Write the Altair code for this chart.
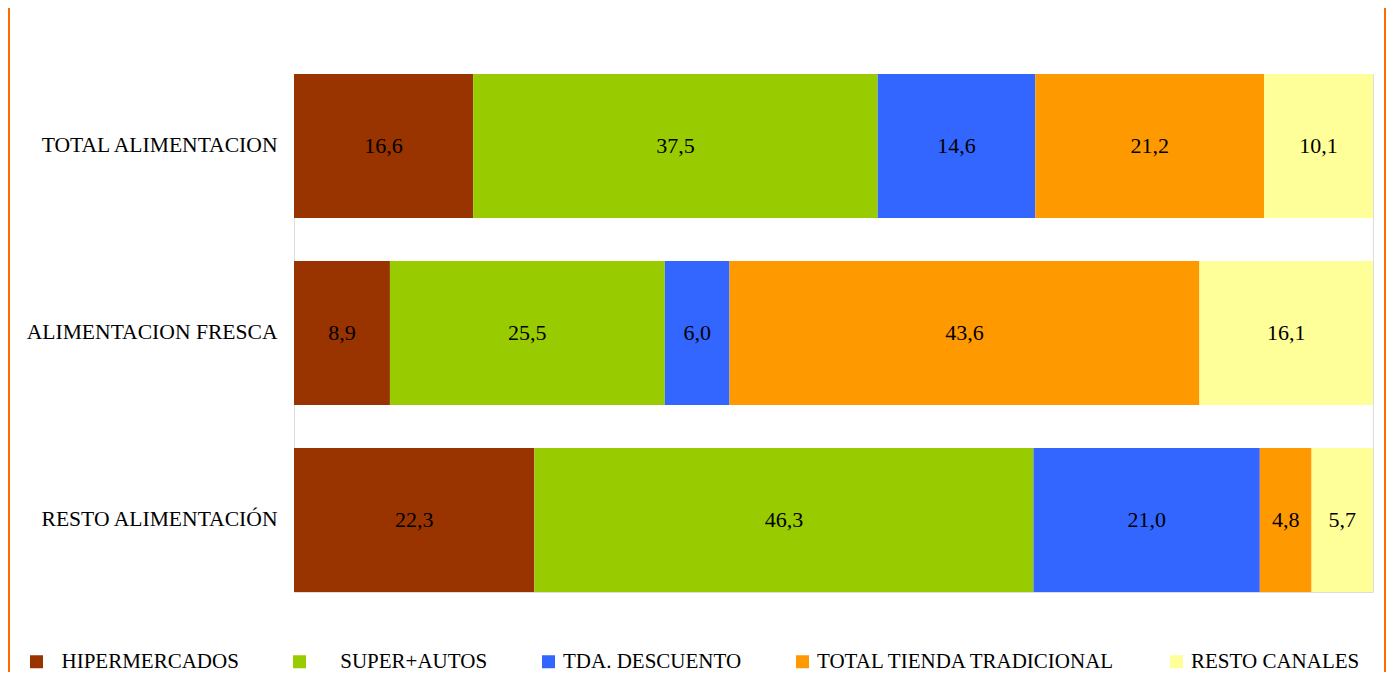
import altair as alt
import pandas as pd

categories = ["TOTAL ALIMENTACION", "ALIMENTACION FRESCA", "RESTO ALIMENTACIÓN"]
series = ["HIPERMERCADOS", "SUPER+AUTOS", "TDA. DESCUENTO", "TOTAL TIENDA TRADICIONAL", "RESTO CANALES"]
hiper = [16.6, 8.9, 22.3]
super_autos = [37.5, 25.5, 46.3]
descuento = [14.6, 6.0, 21.0]
tradicional = [21.2, 43.6, 4.8]
resto = [10.1, 16.1, 5.7]
colors = ["#993300", "#99CC00", "#3366FF", "#FF9900", "#FFFF99"]

values_by_series = [hiper, super_autos, descuento, tradicional, resto]
rows = []
for si, (s, vals) in enumerate(zip(series, values_by_series)):
    for ci, c in enumerate(categories):
        rows.append({"cat": c, "serie": s, "idx": si, "value": vals[ci]})
df = pd.DataFrame(rows)

FONT = "Liberation Serif"
W, H = 1079, 518
PAD_L, PAD_T, PAD_R, PAD_B = 286, 66, 13, 80

base = alt.Chart(df).transform_joinaggregate(
    total="sum(value)", groupby=["cat"]
).transform_window(
    cum="sum(value)", sort=[alt.SortField("idx")], groupby=["cat"],
    frame=[None, 0]
).transform_calculate(
    start="(datum.cum - datum.value) / datum.total",
    end="datum.cum / datum.total",
    mid="(datum.cum - datum.value / 2) / datum.total",
    label="replace(format(datum.value, '.1f'), '.', ',')",
)

yenc = alt.Y(
    "cat:N", sort=categories, title=None,
    scale=alt.Scale(paddingInner=0.23, paddingOuter=0),
    axis=alt.Axis(ticks=False, domain=False, labelFont=FONT, labelFontSize=21.6,
                  labelColor="#000000", labelPadding=17, labelLimit=400),
)

xscale = alt.Scale(domain=[0, 1], nice=False, zero=True)

ZW = "\u200b"
NB = "\u00a0"
label_expr = (
    f"datum.label == 'HIPERMERCADOS' ? '{ZW}{NB*2}HIPERMERCADOS' : "
    f"datum.label == 'SUPER+AUTOS' ? '{ZW}{NB*5}SUPER+AUTOS' : datum.label"
)

bars = base.mark_bar(size=144).encode(
    x=alt.X("start:Q", scale=xscale, axis=None),
    x2="end:Q",
    y=yenc,
    color=alt.Color(
        "serie:N", sort=series,
        scale=alt.Scale(domain=series, range=colors),
        legend=alt.Legend(
            title=None, orient="none", direction="horizontal",
            legendX=-268, legendY=577, padding=0,
            symbolType="square", symbolSize=169, symbolStrokeWidth=0,
            symbolOpacity=1,
            labelFont=FONT, labelFontSize=21, labelColor="#000000",
            labelOffset=4, columnPadding=50, labelLimit=500,
            labelExpr=label_expr,
        ),
    ),
    order=alt.Order("idx:Q"),
)

texts = base.mark_text(font=FONT, fontSize=22, color="#000000", baseline="middle", align="center").encode(
    x=alt.X("mid:Q", scale=xscale, axis=None),
    y=alt.Y("cat:N", sort=categories),
    text="label:N",
)

border_df = pd.DataFrame({"k": [0]})
left_border = alt.Chart(border_df).mark_rule(color="#FF6A00", strokeWidth=2).encode(
    x=alt.value(-PAD_L + 1), y=alt.value(-PAD_T), y2=alt.value(H + PAD_B)
)
right_border = alt.Chart(border_df).mark_rule(color="#FF6A00", strokeWidth=2).encode(
    x=alt.value(W + PAD_R - 1), y=alt.value(-PAD_T), y2=alt.value(H + PAD_B)
)

chart = alt.layer(bars, texts, left_border, right_border).properties(
    width=W, height=H,
    autosize=alt.AutoSizeParams(type="none"),
    padding={"left": PAD_L, "top": PAD_T, "right": PAD_R, "bottom": PAD_B},
).configure_view(stroke="transparent", strokeWidth=0, fill="#FFFFFF").configure(background="#FFFFFF")

chart.save("out.html", embed_options={"renderer": "svg", "actions": False})
